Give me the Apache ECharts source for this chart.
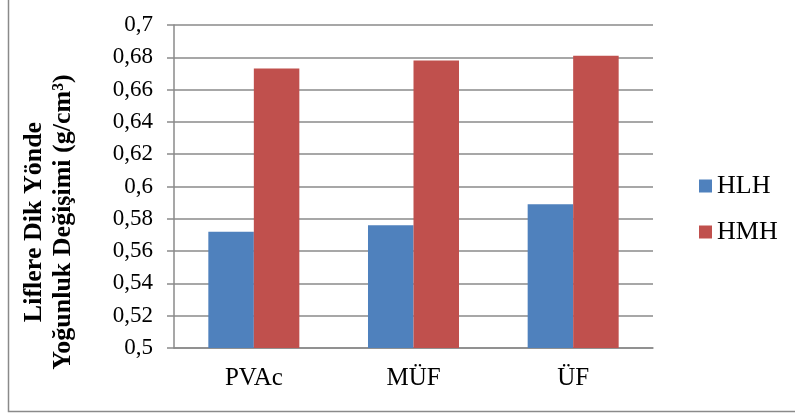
<!DOCTYPE html>
<html>
<head>
<meta charset="utf-8">
<script src="https://cdn.jsdelivr.net/npm/echarts@6/dist/echarts.min.js"></script>
<style>
  html, body { margin: 0; padding: 0; background: #fff; }
  #chart { width: 795px; height: 416px; }
</style>
</head>
<body>
<div id="chart"></div>
<script>
// Adhesive types on the category axis
const categories = ['PVAc', 'MÜF', 'ÜF'];
// Density change perpendicular to fibres (g/cm³)
const hlhValues = [0.572, 0.576, 0.589];
const hmhValues = [0.673, 0.678, 0.681];
const seriesNames = ['HLH', 'HMH'];
const yTitleLines = ['Liflere Dik Yönde', 'Yoğunluk Değişimi (g/cm³)'];

const serif = '"Liberation Serif", "Times New Roman", serif';
const chart = echarts.init(document.getElementById('chart'), null, { renderer: 'canvas' });

chart.setOption({
  animation: false,
  backgroundColor: '#ffffff',
  grid: { left: 174, top: 25, right: 142, bottom: 68 },
  legend: {
    orient: 'vertical',
    left: 694,
    top: 168,
    itemWidth: 13,
    itemHeight: 13,
    itemGap: 20,
    icon: 'rect',
    textStyle: { fontFamily: serif, fontSize: 26, color: '#000' },
    data: seriesNames
  },
  xAxis: {
    type: 'category',
    data: categories,
    axisLine: { lineStyle: { color: '#8a8a8a', width: 1.5 } },
    axisTick: { show: false },
    axisLabel: { fontFamily: serif, fontSize: 25, color: '#000', margin: 18 }
  },
  yAxis: {
    type: 'value',
    min: 0.5,
    max: 0.7,
    interval: 0.02,
    axisLine: { show: true, lineStyle: { color: '#8a8a8a', width: 1.5 } },
    axisTick: { show: true, length: 7, lineStyle: { color: '#8a8a8a', width: 1.5 } },
    splitLine: { lineStyle: { color: '#8a8a8a', width: 1.5 } },
    axisLabel: {
      fontFamily: serif, fontSize: 23, color: '#000', margin: 21,
      formatter: v => String(Math.round(v * 100) / 100).replace('.', ',')
    }
  },
  series: [
    {
      name: seriesNames[0], type: 'bar', data: hlhValues,
      barGap: '0%', barCategoryGap: '43%',
      itemStyle: { color: '#4F81BD' }
    },
    {
      name: seriesNames[1], type: 'bar', data: hmhValues,
      barGap: '0%', barCategoryGap: '43%',
      itemStyle: { color: '#C0504D' }
    }
  ],
  graphic: [
    {
      type: 'text',
      x: 49, y: 222,
      rotation: Math.PI / 2,
      style: {
        text: yTitleLines.join('\n'),
        fontFamily: serif, fontSize: 26, fontWeight: 'bold',
        fill: '#000', align: 'center', verticalAlign: 'middle', lineHeight: 29
      }
    },
    {
      type: 'polyline',
      shape: { points: [[8.5, 0], [8.5, 411.5], [795, 411.5]] },
      style: { stroke: '#8a8a8a', lineWidth: 1.5, fill: null }
    }
  ]
});
</script>
</body>
</html>
